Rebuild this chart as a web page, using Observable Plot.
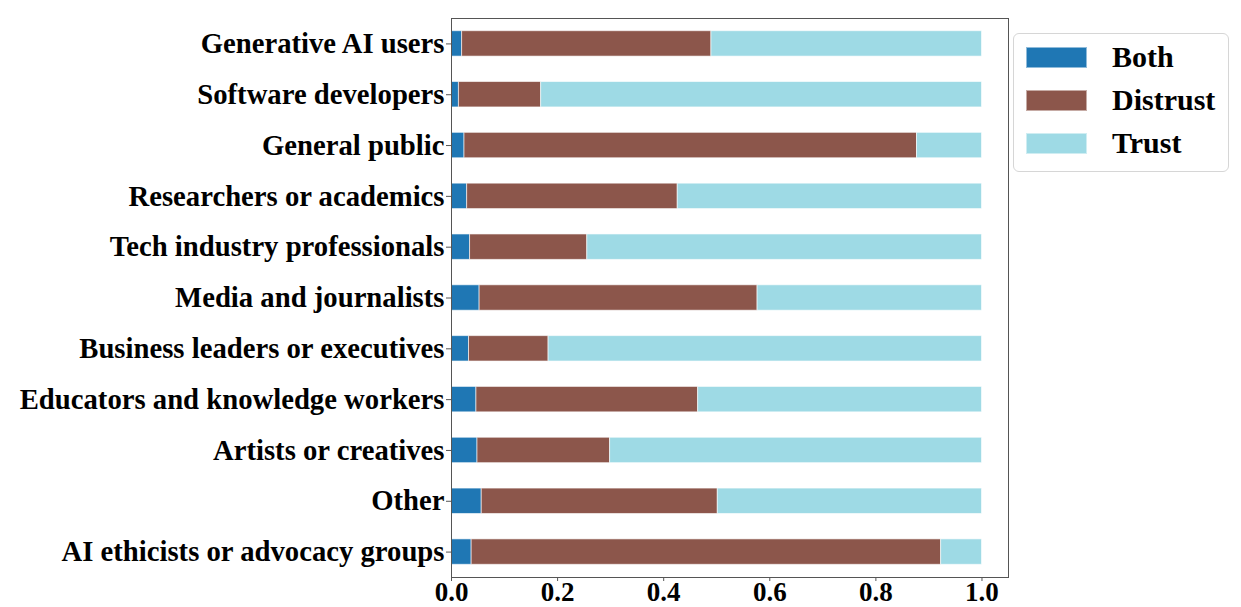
<!DOCTYPE html>
<html><head><meta charset="utf-8">
<script src="https://cdn.jsdelivr.net/npm/d3@7"></script>
<script src="https://cdn.jsdelivr.net/npm/@observablehq/plot@0.6"></script>
<style>
body{margin:0;background:#fff;}
#wrap{position:relative;width:1241px;height:607px;}
#legend{position:absolute;left:1013px;top:33px;width:216px;height:139px;border:1px solid #d6d6d6;border-radius:6px;box-sizing:border-box;font-family:"Liberation Serif",serif;font-weight:bold;font-size:30px;background:#fff;}
.item{position:absolute;left:12px;height:22px;display:flex;align-items:center;}
.sw{width:61px;height:21px;box-sizing:border-box;border:1px solid rgba(255,255,255,0.5);}
.lab{margin-left:25px;line-height:22px;color:#000;}
</style>
</head><body>
<div id="wrap"><div id="chart"></div><div id="legend"></div></div>
<script>
const categories = ["Generative AI users","Software developers","General public","Researchers or academics","Tech industry professionals","Media and journalists","Business leaders or executives","Educators and knowledge workers","Artists or creatives","Other","AI ethicists or advocacy groups"];
const seriesNames = ["Both","Distrust","Trust"];
const seriesColors = ["#1f77b4","#8c564b","#9edae5"];
const both =     [0.020, 0.014, 0.0245, 0.0295, 0.035, 0.053, 0.033, 0.047, 0.049, 0.057, 0.038];
const distrust = [0.470, 0.155, 0.853,  0.397,  0.221, 0.524, 0.150, 0.418, 0.250, 0.445, 0.885];
const trust =    [0.510, 0.831, 0.1225, 0.5735, 0.744, 0.423, 0.817, 0.535, 0.701, 0.498, 0.077];
const xTicks = [0, 0.2, 0.4, 0.6, 0.8, 1.0];

const seriesValues = [both, distrust, trust];
const rows = [];
categories.forEach((c, i) => {
  seriesNames.forEach((s, j) => rows.push({category: c, series: s, value: seriesValues[j][i]}));
});

const chart = Plot.plot({
  width: 1241,
  height: 607,
  marginLeft: 451,
  marginRight: 233,
  marginTop: 18,
  marginBottom: 30,
  style: {fontFamily: "'Liberation Serif', serif", fontWeight: "bold", background: "#fff", color: "#000"},
  x: {domain: [0, 1.05]},
  y: {type: "band", domain: categories, paddingInner: 0.5, paddingOuter: 0.25, round: false},
  color: {domain: seriesNames, range: seriesColors},
  marks: [
    Plot.barX(rows, Plot.stackX({y: "category", x: "value", fill: "series", stroke: "#ffffff", strokeOpacity: 0.6, strokeWidth: 1, inset: 0})),
    Plot.axisX({ticks: xTicks, tickFormat: d3.format(".1f"), tickSize: 4, tickPadding: 0, label: null, fontSize: 27, stroke: "#555"}),
    Plot.axisY({tickSize: 5, tickPadding: 2, label: null, fontSize: 28.7, stroke: "#555"}),
    Plot.frame({stroke: "#555", strokeWidth: 1})
  ]
});
document.getElementById("chart").appendChild(chart);

const legend = document.getElementById("legend");
seriesNames.forEach((s, j) => {
  const it = document.createElement("div");
  it.className = "item";
  it.style.top = (12 + j * 43) + "px";
  const sw = document.createElement("div");
  sw.className = "sw";
  sw.style.background = seriesColors[j];
  const lab = document.createElement("span");
  lab.className = "lab";
  lab.textContent = s;
  it.appendChild(sw); it.appendChild(lab);
  legend.appendChild(it);
});
</script>
</body></html>
